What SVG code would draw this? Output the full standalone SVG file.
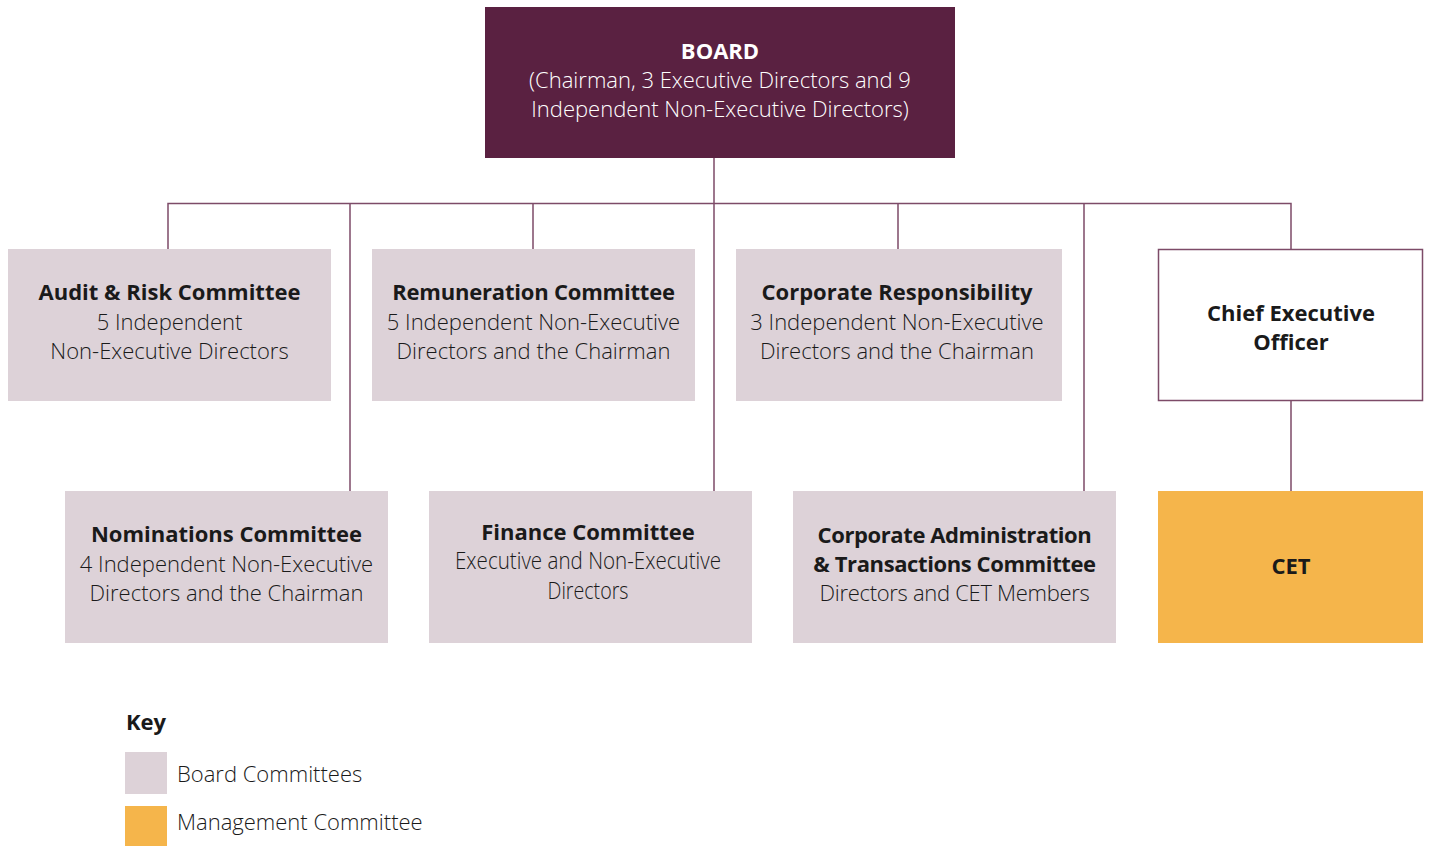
<svg xmlns="http://www.w3.org/2000/svg" width="1429" height="846" viewBox="0 0 1429 846">
<style>
.bc{fill:#ddd2d8}
.t{font-family:"Open Sans","Noto Sans",sans-serif;font-size:22px;fill:#1a1a1a;text-anchor:middle}
.b{font-weight:700}
.l{font-weight:300}
.w{fill:#ffffff}
.c{font-size:23px}
.con{stroke:#7d4b68;stroke-width:1.5;fill:none}
</style>
<rect width="1429" height="846" fill="#ffffff"/>
<g id="connectors">
<path class="con" d="M714 158V491M168 249V203.5H1291V249M350 203.5V491M533 203.5V249M898 203.5V249M1084 203.5V491M1291 400V491"/>
</g>
<g id="board">
<rect x="485" y="7" width="470" height="151" fill="#5a2141"/>
<text class="t b w" x="720" y="59">BOARD</text>
<text class="t l w" x="720" y="88">(Chairman, 3 Executive Directors and 9</text>
<text class="t l w" x="720" y="117">Independent Non-Executive Directors)</text>
</g>
<g id="audit">
<rect class="bc" x="8" y="249" width="323" height="152"/>
<text class="t b" x="169.5" y="300">Audit &amp; Risk Committee</text>
<text class="t l" x="169.5" y="330">5 Independent</text>
<text class="t l" x="169.5" y="359">Non-Executive Directors</text>
</g>
<g id="remuneration">
<rect class="bc" x="372" y="249" width="323" height="152"/>
<text class="t b" x="533.5" y="300" style="letter-spacing:-0.2px">Remuneration Committee</text>
<text class="t l" x="533.5" y="330">5 Independent Non-Executive</text>
<text class="t l" x="533.5" y="359">Directors and the Chairman</text>
</g>
<g id="corporate-responsibility">
<rect class="bc" x="736" y="249" width="326" height="152"/>
<text class="t b" x="897" y="300">Corporate Responsibility</text>
<text class="t l" x="897" y="330">3 Independent Non-Executive</text>
<text class="t l" x="897" y="359">Directors and the Chairman</text>
</g>
<g id="ceo">
<rect x="1158.5" y="249.5" width="264" height="151" fill="#ffffff" stroke="#7d4b68" stroke-width="1.5"/>
<text class="t b" x="1291" y="321">Chief Executive</text>
<text class="t b" x="1291" y="350">Officer</text>
</g>
<g id="nominations">
<rect class="bc" x="65" y="491" width="323" height="152"/>
<text class="t b" x="226.5" y="542">Nominations Committee</text>
<text class="t l" x="226.5" y="572">4 Independent Non-Executive</text>
<text class="t l" x="226.5" y="601">Directors and the Chairman</text>
</g>
<g id="finance">
<rect class="bc" x="429" y="491" width="323" height="152"/>
<text class="t b" x="588" y="540">Finance Committee</text>
<text class="t l c" x="588" y="569" textLength="266" lengthAdjust="spacingAndGlyphs">Executive and Non-Executive</text>
<text class="t l c" x="588" y="599" textLength="81" lengthAdjust="spacingAndGlyphs">Directors</text>
</g>
<g id="corporate-admin">
<rect class="bc" x="793" y="491" width="323" height="152"/>
<text class="t b" x="954.5" y="543" style="letter-spacing:-0.4px">Corporate Administration</text>
<text class="t b" x="954.5" y="572" style="letter-spacing:-0.4px">&amp; Transactions Committee</text>
<text class="t l" x="954.5" y="601" style="letter-spacing:-0.3px">Directors and CET Members</text>
</g>
<g id="cet">
<rect x="1158" y="491" width="265" height="152" fill="#f5b54b"/>
<text class="t b" x="1291" y="574">CET</text>
</g>
<g id="key">
<text class="t b" x="126" y="730" style="text-anchor:start">Key</text>
<rect class="bc" x="125" y="752" width="42" height="42"/>
<text class="t l" x="177" y="782" style="text-anchor:start">Board Committees</text>
<rect x="125" y="806" width="42" height="40" fill="#f5b54b"/>
<text class="t l" x="177" y="830" style="text-anchor:start">Management Committee</text>
</g>
</svg>
